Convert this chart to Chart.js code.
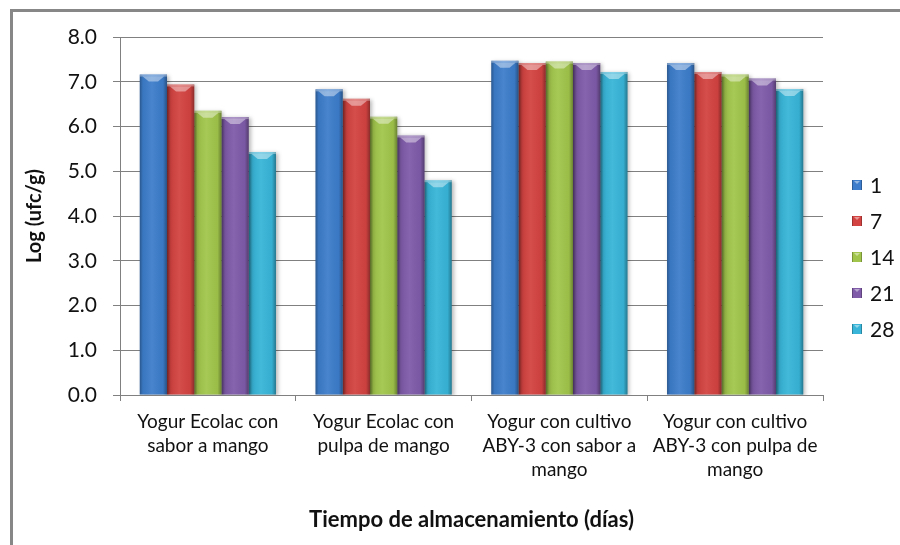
<!DOCTYPE html>
<html>
<head>
<meta charset="utf-8">
<script src="https://cdn.jsdelivr.net/npm/chart.js@4.4.1/dist/chart.umd.min.js"></script>
<style>
  html, body { margin: 0; padding: 0; background: #fff; overflow: hidden; }
  #frame {
    position: absolute; left: 10px; top: 9px; width: 1000px; height: 1000px;
    border-left: 3px solid #878787; border-top: 3px solid #878787;
  }
  #chart { position: absolute; left: 0; top: 0; }
</style>
</head>
<body>
<div id="frame"></div>
<canvas id="chart" width="900" height="545"></canvas>
<script>
// categories (products)
const categories = [
  ["Yogur Ecolac con", "sabor a mango"],
  ["Yogur Ecolac con", "pulpa de mango"],
  ["Yogur con cultivo", "ABY-3 con sabor a", "mango"],
  ["Yogur con cultivo", "ABY-3 con pulpa de", "mango"]
];

// storage days (series)
const days = ["1", "7", "14", "21", "28"];

// Log (ufc/g) per day, one value per product
const day1 = [7.16, 6.83, 7.47, 7.42];
const day7 = [6.94, 6.62, 7.42, 7.22];
const day14 = [6.35, 6.22, 7.45, 7.16];
const day21 = [6.21, 5.80, 7.42, 7.07];
const day28 = [5.43, 4.80, 7.22, 6.84];

const yTicks = [0, 1, 2, 3, 4, 5, 6, 7, 8];

const seriesValues = [day1, day7, day14, day21, day28];
const colors = ["#3d7dcb", "#d34341", "#a1c54b", "#7f5ba9", "#38b5d8"];

const FONT = "Lato, 'Open Sans', sans-serif";

// bevel / shading on top of every bar, plus a soft shadow
const barLook = {
  id: "barLook",
  beforeDatasetsDraw(chart) {
    const ctx = chart.ctx;
    ctx.save();
    ctx.shadowColor = "rgba(0,0,0,0.28)";
    ctx.shadowBlur = 4;
    ctx.shadowOffsetX = 2;
    ctx.shadowOffsetY = 1;
  },
  afterDatasetsDraw(chart) {
    const ctx = chart.ctx;
    ctx.restore();
    chart.data.datasets.forEach((ds, i) => {
      const meta = chart.getDatasetMeta(i);
      meta.data.forEach(bar => {
        const l = bar.x - bar.width / 2;
        const r = bar.x + bar.width / 2;
        const t = bar.y;
        const b = bar.base;
        const w = r - l;
        const g = ctx.createLinearGradient(l, 0, r, 0);
        g.addColorStop(0, "rgba(0,0,0,0.3)");
        g.addColorStop(0.12, "rgba(0,0,0,0.05)");
        g.addColorStop(0.45, "rgba(255,255,255,0.06)");
        g.addColorStop(0.85, "rgba(0,0,0,0.04)");
        g.addColorStop(1, "rgba(0,0,0,0.34)");
        ctx.fillStyle = g;
        ctx.fillRect(l, t, w, b - t);
        // top cap
        ctx.fillStyle = "rgba(255,255,255,0.35)";
        ctx.fillRect(l, t, w, 2);
        ctx.beginPath();
        ctx.moveTo(l + 3, t + 2);
        ctx.lineTo(r - 3, t + 2);
        ctx.lineTo(r - 9, t + 7);
        ctx.lineTo(l + 9, t + 7);
        ctx.closePath();
        ctx.fillStyle = "rgba(255,255,255,0.42)";
        ctx.fill();
      });
    });
  }
};

// legend on the right
const sideLegend = {
  id: "sideLegend",
  afterDraw(chart) {
    const ctx = chart.ctx;
    const x = chart.chartArea.right + 29;
    ctx.save();
    ctx.font = "21px " + FONT;
    ctx.textBaseline = "middle";
    ctx.textAlign = "left";
    chart.data.datasets.forEach((ds, i) => {
      const y = 185 + i * 36;
      ctx.fillStyle = ds.backgroundColor;
      ctx.fillRect(x, y - 5, 10, 10);
      ctx.fillStyle = "rgba(0,0,0,0.25)";
      ctx.fillRect(x, y - 5, 1, 10);
      ctx.fillRect(x + 9, y - 5, 1, 10);
      ctx.fillStyle = "rgba(255,255,255,0.45)";
      ctx.beginPath();
      ctx.moveTo(x + 2, y - 4);
      ctx.lineTo(x + 8, y - 4);
      ctx.lineTo(x + 5, y - 1);
      ctx.closePath();
      ctx.fill();
      ctx.fillStyle = "#111";
      ctx.fillText(ds.label, x + 18, y + 1);
    });
    ctx.restore();
  }
};

new Chart(document.getElementById("chart"), {
  type: "bar",
  data: {
    labels: categories,
    datasets: days.map((d, i) => ({
      label: d,
      data: seriesValues[i],
      backgroundColor: colors[i],
      borderWidth: 0,
      barPercentage: 1,
      categoryPercentage: 0.775
    }))
  },
  options: {
    responsive: false,
    animation: false,
    layout: { padding: { top: 37, right: 77, bottom: 0, left: 0 } },
    plugins: {
      legend: { display: false },
      tooltip: { enabled: false }
    },
    scales: {
      x: {
        offset: true,
        grid: {
          offset: true,
          drawOnChartArea: false,
          drawTicks: true,
          tickLength: 6,
          color: "#808080"
        },
        border: { color: "#808080", width: 1 },
        ticks: {
          autoSkip: false,
          maxRotation: 0,
          padding: 9,
          color: "#111",
          font: { family: FONT, size: 19, lineHeight: 1.25 }
        },
        title: {
          display: true,
          text: "Tiempo de almacenamiento (días)",
          color: "#111",
          font: { family: FONT, size: 22, weight: "bold", lineHeight: 1.2 },
          padding: { top: 0, bottom: 12 }
        },
        afterFit(scale) { scale.height = 150; }
      },
      y: {
        min: 0,
        max: 8,
        afterBuildTicks(scale) { scale.ticks = yTicks.map(v => ({ value: v })); },
        grid: { color: "#808080", tickLength: 7, lineWidth: 1 },
        border: { color: "#808080", width: 1 },
        ticks: {
          padding: 16,
          color: "#111",
          font: { family: FONT, size: 21 },
          callback: v => v.toFixed(1)
        },
        title: {
          display: true,
          text: "Log (ufc/g)",
          color: "#111",
          font: { family: FONT, size: 20, weight: "bold", lineHeight: 1.2 },
          padding: { top: 23, bottom: 0 }
        },
        afterFit(scale) { scale.width = 120; }
      }
    }
  },
  plugins: [barLook, sideLegend]
});
</script>
</body>
</html>
